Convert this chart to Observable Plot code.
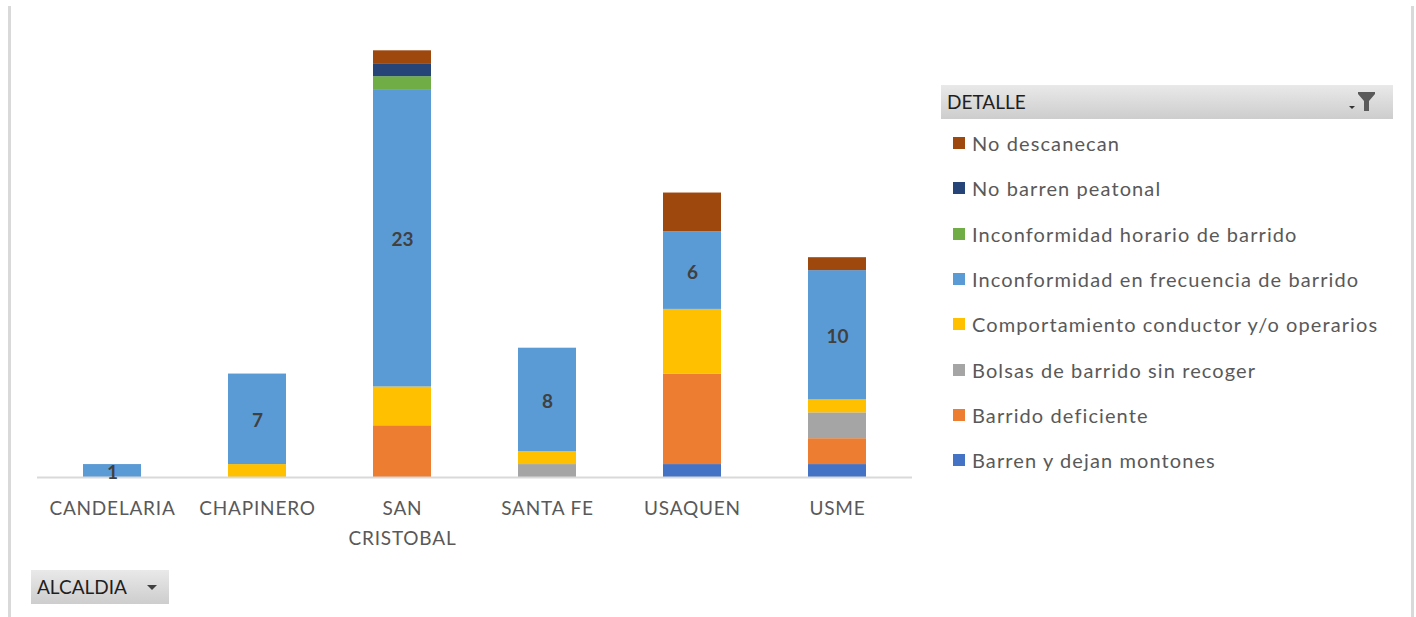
<!DOCTYPE html>
<html>
<head>
<meta charset="utf-8">
<script src="https://cdn.jsdelivr.net/npm/d3@7"></script>
<script src="https://cdn.jsdelivr.net/npm/@observablehq/plot@0.6"></script>
<style>
  html, body { margin: 0; padding: 0; background: #fff; }
  #wrap { position: relative; width: 1416px; height: 617px; overflow: hidden; font-family: Lato, "Open Sans", sans-serif; }
  #chart { position: absolute; left: 0; top: 0; }
  #chart g[aria-label="x-axis tick label"] text { letter-spacing: 0.8px; }
  .frame { position: absolute; top: 6px; bottom: 0; width: 3px; background: #d9d9d9; }
  .btn { position: absolute; background: linear-gradient(#e9e9e9, #cdcdcd); color: #1f1f1f; font-size: 19px; box-sizing: border-box; }
  #legend { position: absolute; left: 941px; top: 85px; width: 452px; }
  .item { position: absolute; left: 12px; height: 24px; display: flex; align-items: center; color: #595959; font-size: 20px; letter-spacing: 1.1px; white-space: nowrap; }
  .sw { width: 12px; height: 12px; margin-right: 7px; flex: none; }
</style>
</head>
<body>
<div id="wrap">
  <div id="chart"></div>
  <div class="frame" style="left:8px"></div>
  <div class="frame" style="left:1411px"></div>
  <div id="legend"></div>
  <div class="btn" style="left:31px; top:570px; width:138px; height:34px;">
    <span style="position:absolute; left:6px; top:5px;">ALCALDIA</span>
    <svg style="position:absolute; left:116px; top:15px" width="10" height="6"><path d="M0,0 L10,0 L5,5 Z" fill="#404040"/></svg>
  </div>
</div>
<script>
const alcaldias = ["CANDELARIA", "CHAPINERO", "SAN CRISTOBAL", "SANTA FE", "USAQUEN", "USME"];
const series = [
  "Barren y dejan montones",
  "Barrido deficiente",
  "Bolsas de barrido sin recoger",
  "Comportamiento conductor y/o operarios",
  "Inconformidad en frecuencia de barrido",
  "Inconformidad horario de barrido",
  "No barren peatonal",
  "No descanecan"
];
const colors = ["#4472C4", "#ED7D31", "#A5A5A5", "#FFC000", "#5B9BD5", "#70AD47", "#264478", "#9E480E"];
const barrenYDejanMontones      = [0, 0, 0, 0, 1, 1];
const barridoDeficiente         = [0, 0, 4, 0, 7, 2];
const bolsasSinRecoger          = [0, 0, 0, 1, 0, 2];
const comportamientoConductor   = [0, 1, 3, 1, 5, 1];
const inconformidadFrecuencia   = [1, 7, 23, 8, 6, 10];
const inconformidadHorario      = [0, 0, 1, 0, 0, 0];
const noBarrenPeatonal          = [0, 0, 1, 0, 0, 0];
const noDescanecan              = [0, 0, 1, 0, 3, 1];
const seriesValues = [barrenYDejanMontones, barridoDeficiente, bolsasSinRecoger, comportamientoConductor,
  inconformidadFrecuencia, inconformidadHorario, noBarrenPeatonal, noDescanecan];
const labelled = "Inconformidad en frecuencia de barrido";

const data = [];
series.forEach((s, i) => alcaldias.forEach((a, j) => {
  if (seriesValues[i][j] > 0) data.push({alcaldia: a, detalle: s, value: seriesValues[i][j]});
}));

const H = 617, base = 477, unit = 12.93, ymax = 35;
const chart = Plot.plot({
  width: 1416,
  height: H,
  marginLeft: 39,
  marginRight: 506,
  marginTop: base - ymax * unit,
  marginBottom: H - base,
  style: {fontFamily: "Lato, 'Open Sans', sans-serif", fontSize: "19px", color: "#595959", background: "transparent", overflow: "visible"},
  x: {domain: alcaldias, paddingInner: 0.6, paddingOuter: 0.3, label: null},
  y: {domain: [0, ymax], axis: null},
  color: {domain: series, range: colors},
  marks: [
    Plot.barY(data, Plot.stackY({x: "alcaldia", y: "value", fill: "detalle", z: "detalle", order: series})),
    Plot.ruleY([0], {stroke: "#d9d9d9", strokeWidth: 2, insetLeft: -2, insetRight: -2}),
    Plot.text(data, Plot.stackY({x: "alcaldia", y: "value", z: "detalle", order: series,
      text: d => d.detalle === labelled ? String(d.value) : null,
      fill: "#404040", fontWeight: "bold", fontSize: 19, dy: 2})),
    Plot.axisX({tickSize: 0, tickPadding: 17, lineHeight: 1.55, fill: "#595959", fontSize: 19,
      tickFormat: d => d.replace(" ", "\n").replace("SANTA\nFE", "SANTA FE")})
  ]
});
document.getElementById("chart").appendChild(chart);

// legend (top to bottom = reverse stacking order)
const legend = document.getElementById("legend");
const header = document.createElement("div");
header.className = "btn";
header.style.cssText = "position:relative; width:452px; height:34px;";
header.innerHTML = '<span style="position:absolute; left:6px; top:5px;">DETALLE</span>' +
  '<svg style="position:absolute; left:408px; top:6px" width="28" height="22">' +
  '<path d="M0,15 L6,15 L3,18 Z" fill="#333"/>' +
  '<path d="M9,1 L26,1 L26,3 L20,10 L20,20 L15,20 L15,10 L9,3 Z" fill="#5a5a5a"/></svg>';
legend.appendChild(header);
series.slice().reverse().forEach((s, i) => {
  const it = document.createElement("div");
  it.className = "item";
  it.style.top = (143 - 85 - 12 + i * 45.3) + "px";
  it.innerHTML = `<span class="sw" style="background:${colors[series.indexOf(s)]}"></span><span>${s}</span>`;
  legend.appendChild(it);
});
</script>
</body>
</html>
